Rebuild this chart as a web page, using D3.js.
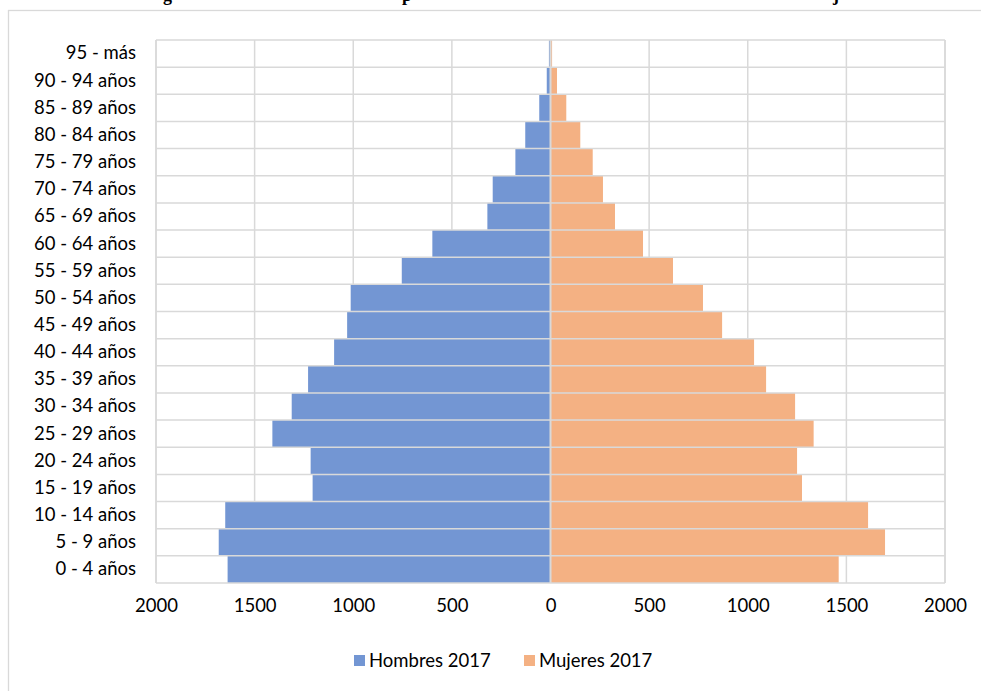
<!DOCTYPE html>
<html><head><meta charset="utf-8">
<script src="https://cdn.jsdelivr.net/npm/d3@7"></script>
<style>body{margin:0;background:#fff}svg{display:block}</style>
</head><body>
<svg id="c" width="981" height="691"></svg>
<script>
const categories = ["95 - más","90 - 94 años","85 - 89 años","80 - 84 años","75 - 79 años","70 - 74 años","65 - 69 años","60 - 64 años","55 - 59 años","50 - 54 años","45 - 49 años","40 - 44 años","35 - 39 años","30 - 34 años","25 - 29 años","20 - 24 años","15 - 19 años","10 - 14 años","5 - 9 años","0 - 4 años"];
const hombres = [8,19,57,128,178,293,320,599,754,1013,1031,1097,1229,1312,1410,1216,1206,1649,1682,1637];
const mujeres = [8,33,80,151,214,266,327,469,621,773,870,1032,1093,1240,1334,1250,1275,1610,1696,1461];
const ticks = [-2000,-1500,-1000,-500,0,500,1000,1500,2000];
const seriesNames = ["Hombres 2017","Mujeres 2017"];
const colors = ["#7396D3","#F4B183"];

const svg = d3.select("#c");
const font = "Lato, 'Open Sans', sans-serif";
const grid = "#d9d9d9";

// partial title (cut off at top of the picture)
svg.append("text").attr("y",1).attr("font-family","'Liberation Serif', serif").attr("font-weight","bold").attr("font-size",18).attr("fill","#000")
  .selectAll("tspan").data([["g",163],["p",402],["j",833]]).join("tspan").attr("x",d=>d[1]).text(d=>d[0]);

// outer frame
svg.append("rect").attr("x",8.5).attr("y",10.5).attr("width",1000).attr("height",700).attr("fill","none").attr("stroke",grid).attr("stroke-width",1.3);

const L=156, R=945, T=40, B=583;
const x = d3.scaleLinear().domain([-2000,2000]).range([L,R]);
const y = d3.scaleBand().domain(categories).range([T,B]).padding(0);

// vertical grid
svg.append("g").selectAll("line").data(ticks).join("line")
  .attr("x1",d=>x(d)).attr("x2",d=>x(d)).attr("y1",T).attr("y2",B)
  .attr("stroke",grid).attr("stroke-width",1.5);

// bars
svg.append("g").selectAll("rect").data(categories).join("rect")
  .attr("x",(d,i)=>x(-hombres[i])).attr("width",(d,i)=>x(0)-x(-hombres[i]))
  .attr("y",d=>y(d)).attr("height",y.bandwidth()).attr("fill",colors[0]);
svg.append("g").selectAll("rect").data(categories).join("rect")
  .attr("x",x(0)).attr("width",(d,i)=>x(mujeres[i])-x(0))
  .attr("y",d=>y(d)).attr("height",y.bandwidth()).attr("fill",colors[1]);

// horizontal grid / band boundaries
const bounds = categories.map(c=>y(c)).concat([B]);
svg.append("g").selectAll("line").data(bounds).join("line")
  .attr("x1",L).attr("x2",R).attr("y1",d=>d).attr("y2",d=>d)
  .attr("stroke",grid).attr("stroke-width",1.5);
svg.append("line").attr("x1",x(0)).attr("x2",x(0)).attr("y1",T).attr("y2",B).attr("stroke",grid).attr("stroke-width",2);
svg.append("line").attr("x1",L).attr("x2",L).attr("y1",T).attr("y2",B).attr("stroke",grid).attr("stroke-width",1.5);
svg.append("line").attr("x1",R).attr("x2",R).attr("y1",T).attr("y2",B).attr("stroke",grid).attr("stroke-width",1.5);

// category axis
const ya = svg.append("g").attr("transform",`translate(${L-20},0)`).call(d3.axisLeft(y).tickSize(0).tickPadding(0));
ya.select(".domain").remove();
ya.selectAll("text").attr("font-family",font).attr("font-size",18.5).attr("fill","#000");

// value axis
const xa = svg.append("g").attr("transform",`translate(0,${B+16})`).call(d3.axisBottom(x).tickValues(ticks).tickSize(0).tickPadding(0).tickFormat(d=>Math.abs(d)));
xa.select(".domain").remove();
xa.selectAll("text").attr("font-family",font).attr("font-size",18.5).attr("fill","#000").attr("dy","0.71em");

// legend
const lg = svg.append("g");
const lx = [354,524];
seriesNames.forEach((n,i)=>{
  lg.append("rect").attr("x",lx[i]).attr("y",655).attr("width",11).attr("height",11).attr("fill",colors[i]);
  lg.append("text").attr("x",lx[i]+15).attr("y",661).attr("dy","0.35em").attr("font-family",font).attr("font-size",18.5).attr("fill","#000").text(n);
});
</script>
</body></html>
